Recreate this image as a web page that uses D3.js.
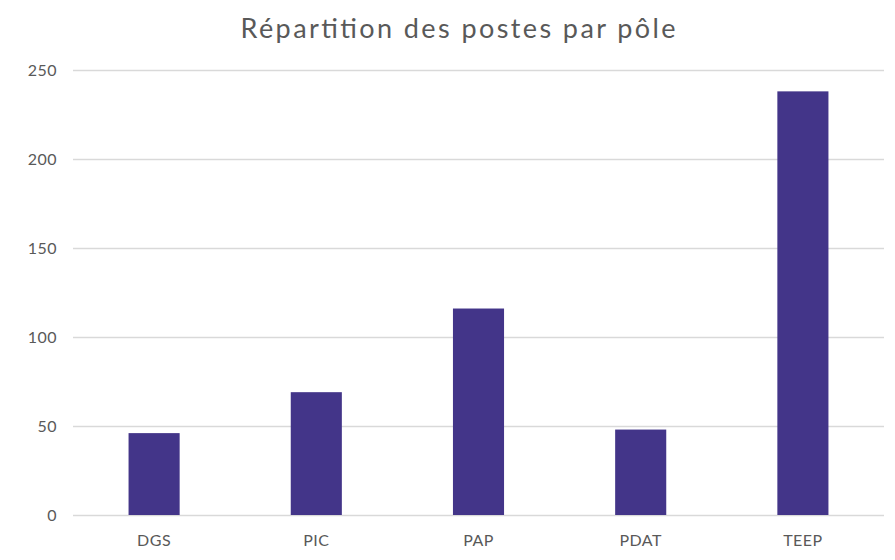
<!DOCTYPE html>
<html><head><meta charset="utf-8">
<script src="https://cdn.jsdelivr.net/npm/d3@7"></script>
<style>body{margin:0;background:#fff;} svg{display:block;}</style>
</head><body>
<svg id="chart" width="895" height="560"></svg>
<script>
const categories = ["DGS", "PIC", "PAP", "PDAT", "TEEP"];
const values = [46, 69, 116, 48, 238];
const yTicks = [0, 50, 100, 150, 200, 250];
const title = "Répartition des postes par pôle";

const svg = d3.select("#chart");
const W = 895, H = 560;
const m = {left: 73, right: 11, top: 70, bottom: 45};
const x = d3.scaleBand().domain(categories).range([m.left, W - m.right]).paddingInner(0.685).paddingOuter(0.3425);
const y = d3.scaleLinear().domain([0, 250]).range([H - m.bottom, m.top]);

const font = "'Lato', 'DejaVu Sans', sans-serif";

svg.append("g").selectAll("line").data(yTicks).join("line")
  .attr("x1", m.left).attr("x2", W - m.right)
  .attr("y1", d => Math.round(y(d)) + 0.5).attr("y2", d => Math.round(y(d)) + 0.5)
  .attr("stroke", "#d9d9d9").attr("stroke-width", 1.3);

svg.append("g").selectAll("text").data(yTicks).join("text")
  .attr("x", 57).attr("y", d => y(d)).attr("dy", "0.35em")
  .attr("text-anchor", "end").attr("fill", "#595959")
  .style("font-family", font).style("font-size", "16px").style("letter-spacing", "0.5px")
  .text(d => d);

svg.append("g").selectAll("rect").data(values).join("rect")
  .attr("x", (d, i) => x(categories[i])).attr("width", x.bandwidth())
  .attr("y", d => y(d)).attr("height", d => y(0) - y(d))
  .attr("fill", "#433589");

svg.append("g").selectAll("text").data(categories).join("text")
  .attr("x", d => x(d) + x.bandwidth() / 2).attr("y", 546)
  .attr("text-anchor", "middle").attr("fill", "#595959")
  .style("font-family", font).style("font-size", "16px").style("letter-spacing", "0.5px")
  .text(d => d);

svg.append("text").attr("x", 458).attr("y", 38).attr("text-anchor", "middle")
  .attr("fill", "#595959").style("font-family", font).style("font-size", "27px")
  .attr("textLength", 435).attr("lengthAdjust", "spacing")
  .text(title);
</script>
</body></html>
